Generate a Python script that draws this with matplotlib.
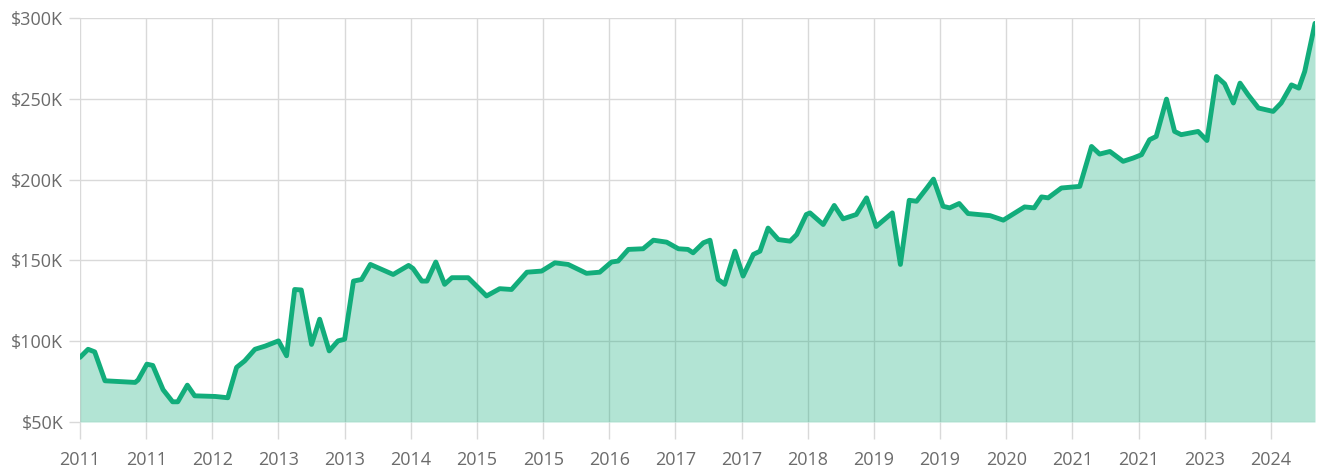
import matplotlib
matplotlib.use("Agg")
import matplotlib.pyplot as plt
from matplotlib import font_manager
from matplotlib.ticker import FuncFormatter

# Months since start of series (fractional) and value in $K
months = [0.0, 1.1, 2.0, 3.4, 7.5, 7.9, 9.1, 9.9, 11.3, 12.6, 13.3, 14.6, 15.6, 18.4, 20.1,
          21.3, 22.4, 23.8, 25.2, 27.0, 28.1, 29.2, 30.1, 31.5, 32.6, 33.9, 35.1, 36.0,
          37.2, 38.3, 39.5, 42.6, 44.7, 45.3, 46.5, 47.2, 48.4, 49.6, 50.6, 52.8, 55.3,
          57.1, 58.7, 60.8, 62.8, 64.6, 66.4, 68.9, 70.7, 72.3, 73.2, 74.6, 76.6, 78.0,
          79.8, 81.4, 82.7, 83.4, 84.8, 85.7, 86.8, 87.7, 89.1, 90.2, 91.6, 92.5, 93.6,
          95.0, 96.6, 97.5, 98.8, 99.3, 101.1, 102.6, 103.8, 105.6, 107.0, 108.3, 110.5,
          111.6, 112.8, 113.8, 115.2, 116.1, 117.4, 118.3, 119.6, 120.8, 123.8, 125.6,
          128.5, 129.8, 130.8, 131.7, 133.5, 136.0, 137.6, 138.7, 140.1, 141.9, 143.3,
          144.4, 145.5, 146.4, 147.8, 148.9, 149.8, 152.1, 153.3, 154.6, 155.7, 156.9,
          157.8, 158.9, 160.3, 162.3, 163.4, 164.8, 165.8, 166.6, 168.0]
values_k = [90, 95, 93.4, 75.5, 74.5, 76, 85.8, 85, 70, 62.5, 62.5, 72.8, 66.2, 65.8, 65,
            83.8, 87.8, 95, 97, 100.2, 91, 132, 131.7, 98, 113.6, 94, 100.2, 101.2,
            137.2, 138.2, 147.5, 141.3, 146.9, 145, 137.2, 137.2, 149, 135.2, 139.3, 139.3, 128,
            132.5, 132, 142.7, 143.4, 148.5, 147.5, 142, 142.7, 149, 149.6, 156.8, 157.2, 162.5,
            161.3, 157.2, 156.8, 154.7, 160.9, 162.5, 138.2, 135.2, 155.7, 140.3, 153.7, 155.7, 170,
            162.9, 161.9, 166, 178.4, 179.4, 172.2, 184, 175.7, 178.4, 188.7, 171, 179.4,
            147.5, 187.2, 186.6, 194.8, 200.3, 183.5, 182.5, 185.2, 179, 177.7, 174.9,
            183.1, 182.5, 189.3, 188.7, 194.8, 195.8, 220.5, 215.8, 217.4, 211.3, 213.4,
            215.4, 224.7, 226.7, 249.8, 229.8, 227.8, 229.8, 224.2, 263.8, 259.3, 247.4,
            259.7, 252.5, 244.3, 242.2, 247.4, 258.6, 256.6, 266.9, 296.7]

tick_months = [0, 9, 18, 27, 36, 45, 54, 63, 72, 81, 90, 99, 108, 117, 126, 135, 144, 153, 162]
tick_labels = ["2011", "2011", "2012", "2013", "2013", "2014", "2015", "2015", "2016", "2017",
               "2017", "2018", "2019", "2019", "2020", "2021", "2021", "2023", "2024"]
y_ticks = [50, 100, 150, 200, 250, 300]

line_color = "#12ad7b"
grid_color = "#d9d9d9"
text_color = "#6b6b6b"

available = {f.name for f in font_manager.fontManager.ttflist}
if "Liberation Sans Narrow" in available:
    plt.rcParams['font.family'] = ['Liberation Sans Narrow', 'DejaVu Sans']
    label_size = 14.5
else:
    plt.rcParams['font.family'] = ['Open Sans', 'DejaVu Sans']
    label_size = 13

fig = plt.figure(figsize=(13.18, 4.73), dpi=100)
ax = fig.add_axes([80 / 1318, 1 - 422 / 473, (1315 - 80) / 1318, (422 - 18) / 473])

ax.fill_between(months, values_k, 50, color=line_color, alpha=0.32, linewidth=0, zorder=2)
ax.plot(months, values_k, color=line_color, linewidth=3.5, solid_joinstyle="round",
        solid_capstyle="round", zorder=3)

ax.set_xlim(0, 168)
ax.set_ylim(50, 300)
ax.set_xticks(tick_months)
ax.set_xticklabels(tick_labels)
ax.set_yticks(y_ticks)
ax.yaxis.set_major_formatter(FuncFormatter(lambda v, p: f"${int(v)}K"))

ax.grid(True, color=grid_color, linewidth=1.0, zorder=1)
ax.set_axisbelow(True)
for s in ax.spines.values():
    s.set_visible(False)

ax.tick_params(axis="both", colors=grid_color, labelcolor=text_color, labelsize=label_size,
               width=1.0)
ax.tick_params(axis="x", length=12, pad=9)
ax.tick_params(axis="y", length=8, pad=4)

fig.savefig("out.png", dpi=100)
